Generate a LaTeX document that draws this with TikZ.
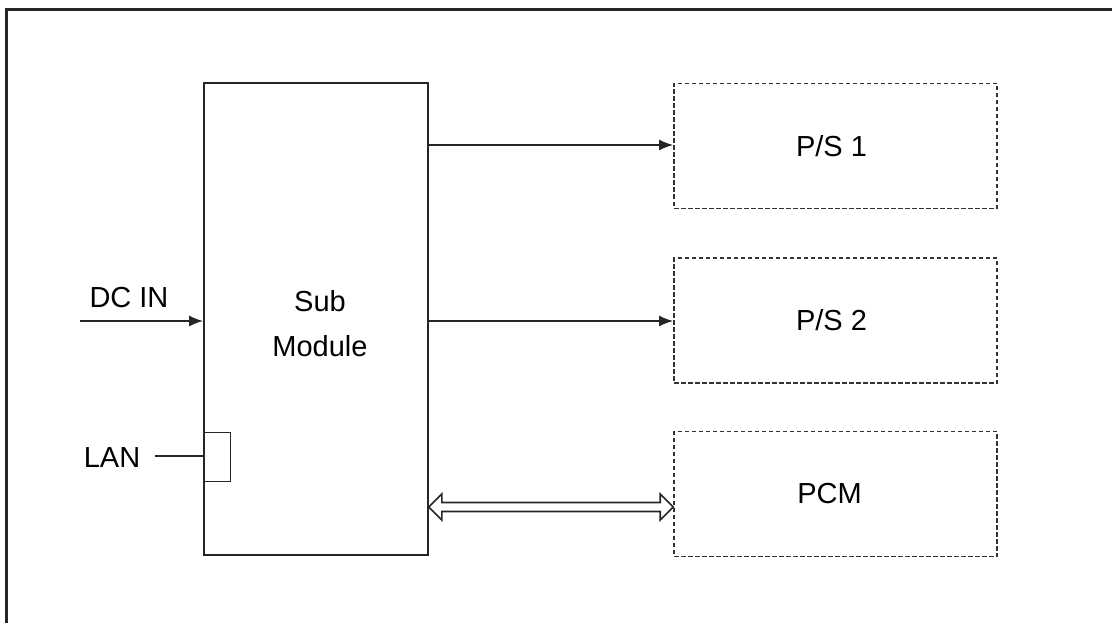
\documentclass[tikz,border=0pt]{standalone}
\usepackage{fontspec}
\setmainfont{Liberation Sans}
\usetikzlibrary{arrows.meta,calc}
\begin{document}
\begin{tikzpicture}[x=1pt,y=-1pt,
  solidbox/.style={draw=black!85,line width=1.7pt,inner sep=0pt},
  dashbox/.style={draw=black!80,line width=1.6pt,dash pattern=on 4.5pt off 2.5pt,inner sep=0pt,
     minimum width=323pt,minimum height=125pt,font=\fontsize{29}{35}\selectfont},
  lbl/.style={font=\fontsize{29}{35}\selectfont,inner sep=0pt},
  conn/.style={draw=black!85,line width=1.7pt,-{Latex[length=14pt,width=11pt]}}]
\useasboundingbox (0,0) rectangle (1112,623);
\draw[line width=3pt,black!85] (6,640) -- (6,10) -- (1130,10);
% Sub module
\node[solidbox,minimum width=224pt,minimum height=472pt] (sub) at (316,319) {};
\node[lbl,align=center,font=\fontsize{29}{45}\selectfont] (subtxt) at (320,324) {Sub\\Module};
% LAN port
\node[solidbox,line width=1.4pt,minimum width=26pt,minimum height=49pt,anchor=north west] (lanport) at (204,432) {};
% right boxes
\node[dashbox] (ps1) at (835.5,146) {\hspace*{-8pt}P/S 1};
\node[dashbox] (ps2) at (835.5,320.5) {\hspace*{-8pt}P/S 2};
\node[dashbox] (pcm) at (835.5,494) {\hspace*{-12pt}PCM};
% inputs
\node[lbl] (dcin) at (129,298) {DC IN};
\coordinate (dcstart) at (80,321);
\draw[conn] (dcstart) -- (dcstart -| sub.west);
\node[lbl] (lan) at (112,458) {LAN};
\coordinate (lanend) at (155,456);
\draw[draw=black!85,line width=1.4pt] (lanend) -- (lanend -| sub.west);
% outputs
\coordinate (o1) at (428,145);
\coordinate (o2) at (428,321);
\draw[conn] (o1 -| sub.east) -- (o1 -| ps1.west);
\draw[conn] (o2 -| sub.east) -- (o2 -| ps2.west);
% hollow double arrow
\coordinate (da) at (428,507);
\coordinate (a) at (da -| sub.east);
\coordinate (b) at (da -| pcm.west);
\draw[draw=black!85,line width=1.6pt,fill=white,line join=miter]
  (a) -- ($(a)+(13,-13)$) -- ($(a)+(13,-4.5)$) -- ($(b)+(-13,-4.5)$) -- ($(b)+(-13,-13)$)
  -- (b) -- ($(b)+(-13,13)$) -- ($(b)+(-13,4.5)$) -- ($(a)+(13,4.5)$) -- ($(a)+(13,13)$) -- cycle;
\end{tikzpicture}
\end{document}
